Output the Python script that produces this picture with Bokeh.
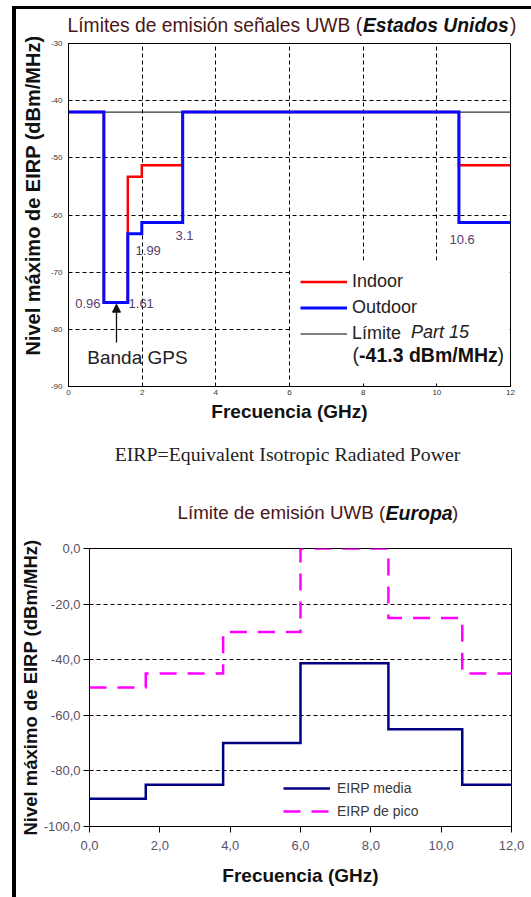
import math
from bokeh.plotting import figure
from bokeh.models import (Range1d, FixedTicker, Label, Legend, LegendItem,
                          BoxAnnotation, Arrow, NormalHead)
from bokeh.embed import file_html
from bokeh.resources import INLINE

FONT = "Liberation Sans"
SERIF = "Liberation Serif"

# ---------------- data: chart 1 (USA, FCC) ----------------
us_freq = [0, 0.96, 1.61, 1.99, 3.1, 10.6, 12]
us_indoor = [-42.0, -75.3, -53.3, -51.3, -42.0, -51.3, -51.3]
us_outdoor = [-42.0, -75.3, -63.3, -61.3, -42.0, -61.3, -61.3]
part15_freq = [0, 12]
part15_level = [-42.0, -42.0]
us_x_ticks = [0, 2, 4, 6, 8, 10, 12]
us_x_labels = ["0", "2", "4", "6", "8", "10", "12"]
us_y_ticks = [-90, -80, -70, -60, -50, -40, -30]
us_y_labels = ["-90", "-80", "-70", "-60", "-50", "-40", "-30"]
us_marks = ["0.96", "1.61", "1.99", "3.1", "10.6"]

# ---------------- data: chart 2 (Europe) ----------------
eu_freq = [0, 1.6, 3.8, 6.0, 8.5, 10.6, 12]
eu_media = [-90, -85, -70, -41.3, -65, -85, -85]
eu_pico = [-50, -45, -30, 0, -25, -45, -45]
eu_x_ticks = [0, 2, 4, 6, 8, 10, 12]
eu_x_labels = ["0,0", "2,0", "4,0", "6,0", "8,0", "10,0", "12,0"]
eu_y_ticks = [-100, -80, -60, -40, -20, 0]
eu_y_labels = ["-100,0", "-80,0", "-60,0", "-40,0", "-20,0", "0,0"]

NB = "\u00a0"
LEFT_LINE = {"margin-left": "16px", "box-shadow": "-4px 0 0 0 #000"}
FIRST_LINE = {"margin-left": "16px", "margin-top": "9px",
              "box-shadow": "-4px 0 0 0 #000, 0 -3px 0 0 #000, -4px -3px 0 0 #000"}


def lab(p, x, y, text, size, color="#222222", style="normal", align="left",
        baseline="middle", angle=0, font=FONT):
    p.add_layout(Label(x=x, y=y, text=text, text_font=font, text_font_size=size,
                       text_font_style=style, text_color=color, text_align=align,
                       text_baseline=baseline, angle=angle))


def strip(h, styles):
    s = figure(width=515, height=h, x_range=Range1d(0, 515), y_range=Range1d(h, 0),
               output_backend="svg", toolbar_location=None, x_axis_location=None,
               y_axis_location=None, min_border=0, styles=styles)
    s.grid.visible = False
    s.outline_line_color = None
    s.background_fill_color = "white"
    s.border_fill_color = "white"
    return s


title_col = "#4a1616"

# =============== Title strip 1 ===============
s1 = strip(28, FIRST_LINE)
lab(s1, 51, 16, "Límites de emisión señales UWB (", "19.3px", color=title_col)
lab(s1, 346.5, 16, "Estados Unidos", "19.3px", color="#111111", style="bold italic")
lab(s1, 493.5, 16, ")", "19.3px", color=title_col)

# =============== Chart 1 ===============
p1 = figure(width=515, height=388, output_backend="svg", toolbar_location=None,
            x_range=Range1d(0, 12), y_range=Range1d(-90, -30),
            min_border_left=52, min_border_right=21, min_border_top=6,
            min_border_bottom=39, styles=LEFT_LINE)
p1.background_fill_color = "white"
p1.border_fill_color = "white"
p1.outline_line_color = "black"
p1.outline_line_width = 1

for ax in (p1.xaxis, p1.yaxis):
    ax.major_label_text_font = FONT
    ax.major_label_text_font_size = "8px"
    ax.major_label_text_color = "#333333"
    ax.major_tick_in = 3
    ax.major_tick_out = 0
    ax.minor_tick_line_color = None
    ax.axis_line_color = "black"
    ax.axis_label_text_font = FONT
    ax.axis_label_text_font_style = "bold"
    ax.axis_label_text_color = "#111111"
p1.xaxis.ticker = FixedTicker(ticks=us_x_ticks)
p1.xaxis.major_label_overrides = dict(zip(us_x_ticks, us_x_labels))
p1.xaxis.major_label_standoff = 3
p1.xaxis.axis_label = "Frecuencia (GHz)"
p1.xaxis.axis_label_text_font_size = "19px"
p1.xaxis.axis_label_standoff = 3
p1.yaxis.ticker = FixedTicker(ticks=us_y_ticks)
p1.yaxis.major_label_overrides = dict(zip(us_y_ticks, us_y_labels))
p1.yaxis.major_label_standoff = 6
p1.yaxis.axis_label = NB * 7 + "Nivel máximo de EIRP (dBm/MHz)"
p1.yaxis.axis_label_text_font_size = "20px"
p1.yaxis.axis_label_standoff = 4

for g in (p1.xgrid, p1.ygrid):
    g.grid_line_color = "black"
    g.grid_line_dash = "4 3"
    g.grid_line_width = 1
    g.grid_line_alpha = 1

# white legend background covering the grid
p1.add_layout(BoxAnnotation(left=6.03, right=11.97, bottom=-89.9, top=-67.96,
                            fill_color="white", fill_alpha=1, line_color=None,
                            level="underlay"))

r_p15 = p1.line(part15_freq, part15_level, line_color="black", line_width=1)
r_in = p1.step(us_freq, us_indoor, mode="after", line_color="#ff0000",
               line_width=2.5, line_join="miter")
r_out = p1.step(us_freq, us_outdoor, mode="after", line_color="#0a0aff",
                line_width=3, line_join="miter")

leg1 = Legend(items=[LegendItem(label="Indoor", renderers=[r_in]),
                     LegendItem(label="Outdoor", renderers=[r_out]),
                     LegendItem(label="Límite", renderers=[r_p15])],
              location=(232, 40.5), border_line_color=None,
              background_fill_alpha=0, padding=0, margin=0, spacing=1,
              glyph_width=47, glyph_height=25, label_height=25,
              label_standoff=5, label_text_font=FONT,
              label_text_font_size="18px", label_text_color="#222222")
p1.add_layout(leg1)
lab(p1, 9.3, -80.55, "Part 15", "18px", style="italic")
lab(p1, 7.71, -84.57, "(", "19.5px")
lab(p1, 7.888, -84.57, "-41.3 dBm/MHz", "19.5px", style="bold", color="#111111")
lab(p1, 11.65, -84.57, ")", "19.5px")

# frequency marks
mark_col = "#56426e"
lab(p1, 0.869, -75.48, us_marks[0], "13px", color=mark_col, align="right")
lab(p1, 1.63, -75.48, us_marks[1], "13px", color=mark_col)
lab(p1, 1.82, -66.21, us_marks[2], "13px", color=mark_col)
lab(p1, 2.905, -63.58, us_marks[3], "13px", color=mark_col)
lab(p1, 10.345, -64.28, us_marks[4], "13px", color=mark_col)

# GPS band arrow
p1.add_layout(Arrow(x_start=1.303, y_start=-82.3, x_end=1.303, y_end=-75.6,
                    line_color="#111111", line_width=1.3,
                    end=NormalHead(size=8, fill_color="#111111", line_color="#111111")))
lab(p1, 1.873, -84.92, "Banda GPS", "19px", align="center")

# =============== Strip 2 (caption + Europe title) ===============
s2 = strip(105, LEFT_LINE)
lab(s2, 271, 28, "EIRP=Equivalent Isotropic Radiated Power", "19.8px",
    color="#222222", align="center", font=SERIF)
lab(s2, 161, 87, "Límite de emisión UWB (", "18.8px", color=title_col)
lab(s2, 369, 87, "Europa", "19.5px", color="#111111", style="bold italic")
lab(s2, 435.5, 87, ")", "18.8px", color=title_col)

# =============== Chart 2 ===============
p2 = figure(width=515, height=367, output_backend="svg", toolbar_location=None,
            x_range=Range1d(0, 12), y_range=Range1d(-100, 0),
            min_border_left=73, min_border_right=20, min_border_top=18,
            min_border_bottom=71, styles=LEFT_LINE)
p2.background_fill_color = "white"
p2.border_fill_color = "white"
p2.outline_line_color = "black"
p2.outline_line_width = 1

tick_col = "#5a5066"
for ax in (p2.xaxis, p2.yaxis):
    ax.major_label_text_font = FONT
    ax.major_label_text_font_size = "13px"
    ax.major_label_text_color = tick_col
    ax.major_tick_in = 0
    ax.major_tick_out = 6
    ax.minor_tick_line_color = None
    ax.axis_line_color = "black"
    ax.axis_label_text_font = FONT
    ax.axis_label_text_font_style = "bold"
    ax.axis_label_text_color = "#111111"
p2.xaxis.ticker = FixedTicker(ticks=eu_x_ticks)
p2.xaxis.major_label_overrides = dict(zip(eu_x_ticks, eu_x_labels))
p2.xaxis.major_label_standoff = 8
p2.xaxis.axis_label = "Frecuencia (GHz)"
p2.xaxis.axis_label_text_font_size = "19px"
p2.xaxis.axis_label_standoff = 12
p2.yaxis.ticker = FixedTicker(ticks=eu_y_ticks)
p2.yaxis.major_label_overrides = dict(zip(eu_y_ticks, eu_y_labels))
p2.yaxis.major_label_standoff = 3
p2.yaxis.axis_label = "Nivel máximo de EIRP (dBm/MHz)"
p2.yaxis.axis_label_text_font_size = "18.5px"
p2.yaxis.axis_label_standoff = 0
p2.xgrid.grid_line_color = None
p2.ygrid.grid_line_color = "black"
p2.ygrid.grid_line_dash = "4 3"
p2.ygrid.grid_line_alpha = 1

r_pico = p2.step(eu_freq, eu_pico, mode="after", line_color="#ff00ff",
                 line_width=2.5, line_dash="17 11", line_join="miter")
r_media = p2.step(eu_freq, eu_media, mode="after", line_color="#000080",
                  line_width=2.5, line_join="miter")

leg2 = Legend(items=[LegendItem(label="EIRP media", renderers=[r_media]),
                     LegendItem(label="EIRP de pico", renderers=[r_pico])],
              location=(194, 4), border_line_color=None,
              background_fill_alpha=0, padding=0, margin=0, spacing=1,
              glyph_width=47, glyph_height=22, label_height=22,
              label_standoff=7, label_text_font=FONT,
              label_text_font_size="14px", label_text_color="#3a3a3a")
p2.add_layout(leg2)

p = [s1, p1, s2, p2]
open("out.html", "w").write(file_html(p, INLINE))
